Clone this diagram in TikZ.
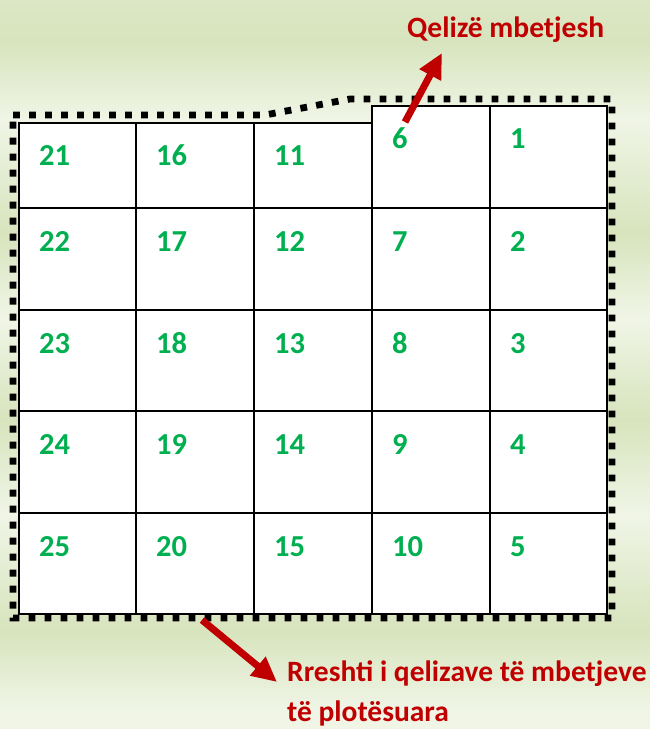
\documentclass[tikz,border=0pt]{standalone}
\usepackage{fontspec}
\setmainfont{Carlito}
\usetikzlibrary{arrows.meta}
\definecolor{numgreen}{HTML}{00B050}
\definecolor{lblred}{HTML}{C00000}
\definecolor{bgdark}{HTML}{D7E4BD}
\definecolor{bglight}{HTML}{F0F5E6}
\begin{document}
\begin{tikzpicture}[x=1pt,y=-1pt,
  cellbox/.style={draw=black, line width=1.8pt, fill=white, inner sep=0pt, outer sep=0pt, anchor=north west},
  num/.style={anchor=base west, inner sep=0pt, text=numgreen, font=\fontsize{30.5}{34}\selectfont\bfseries},
  lbl/.style={anchor=base west, inner sep=0pt, text=lblred, font=\fontsize{29.5}{40}\selectfont\bfseries},
  frameline/.style={draw=black, line width=6.8pt, dash pattern=on 6.8pt off 9.2pt},
  redarrow/.style={draw=lblred, line width=7pt, -{Triangle[length=25pt,width=23pt]}}]
\useasboundingbox (0,0) rectangle (650,729);
% background bands
\fill[top color=bgdark!80!bglight, bottom color=bgdark] (0,0) rectangle (650,40);
\fill[top color=bgdark, bottom color=bglight] (0,40) rectangle (650,120);
\fill[top color=bglight, bottom color=bgdark] (0,120) rectangle (650,233);
\fill[top color=bgdark, bottom color=bglight] (0,233) rectangle (650,318);
\fill[top color=bglight, bottom color=bgdark] (0,318) rectangle (650,420);
\fill[top color=bgdark, bottom color=bglight] (0,420) rectangle (650,514);
\fill[top color=bglight, bottom color=bgdark] (0,514) rectangle (650,630);
\fill[top color=bgdark, bottom color=bglight] (0,630) rectangle (650,710);
\fill[bglight] (0,710) rectangle (650,729);
% dotted outline
\draw[frameline] (13,115) -- (265,115) -- (350,99) -- (612,99) -- (612,618) -- (13,618) -- cycle;
% cells, rows 2-5
\foreach \c/\x/\w in {1/19/117, 2/136/118, 3/254/118, 4/372/118, 5/490/117} {
  \foreach \r/\y/\h in {2/208/102, 3/310/101, 4/411/102, 5/513/101} {
    \pgfmathtruncatemacro{\n}{(5-\c)*5+\r}
    \node[cellbox, minimum width=\w pt, minimum height=\h pt] (c\n) at (\x,\y) {};
    \node[num] (t\n) at ([shift={(20,43)}]c\n.north west) {\n};
  }
}
% first row
\foreach \c/\x/\w/\y/\h in {1/19/117/123/85, 2/136/118/123/85, 3/254/118/123/85, 4/372/118/106/102, 5/490/117/106/102} {
  \pgfmathtruncatemacro{\n}{(5-\c)*5+1}
  \node[cellbox, minimum width=\w pt, minimum height=\h pt] (c\n) at (\x,\y) {};
  \node[num] (t\n) at ([shift={(20,42)}]c\n.north west) {\n};
}
% labels
\node[lbl] (lab1) at (407,37) {Qelizë mbetjesh};
\node[lbl] (lab2) at (287,681) {Rreshti i qelizave të mbetjeve};
\node[lbl] (lab3) at (287,721) {të plotësuara};
% arrows
\coordinate (a1s) at (405,122);
\coordinate (a1e) at (442,53);
\coordinate (a2s) at (202,620);
\coordinate (a2e) at (277,682);
\draw[redarrow] (a1s) -- (a1e);
\draw[redarrow] (a2s) -- (a2e);
\end{tikzpicture}
\end{document}
